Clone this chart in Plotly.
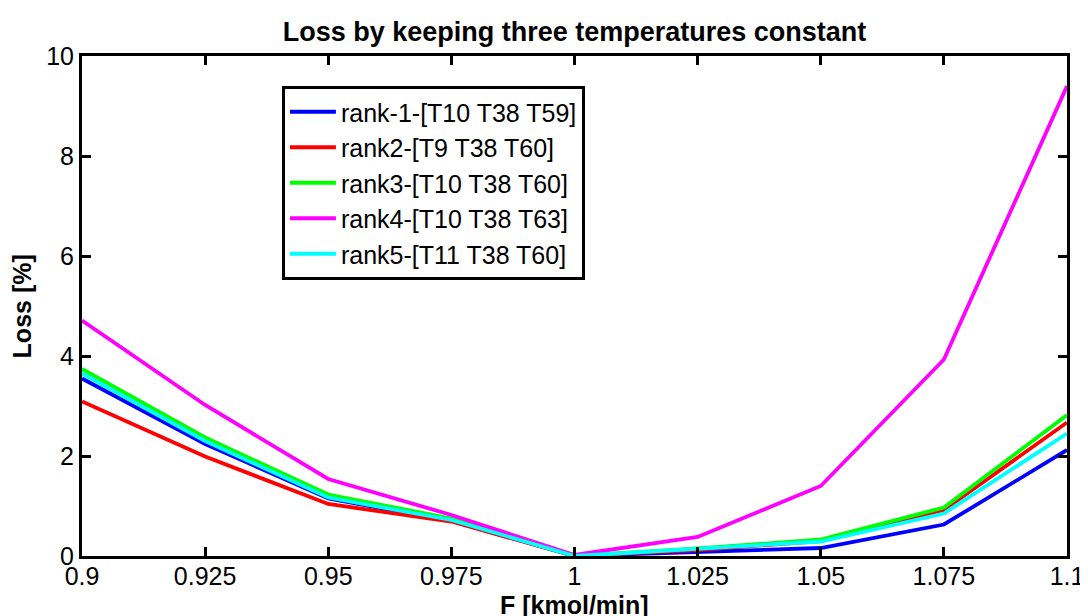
import plotly.graph_objects as go

F = [0.9, 0.925, 0.95, 0.975, 1.0, 1.025, 1.05, 1.075, 1.1]
rank1 = [3.55, 2.24, 1.15, 0.70, 0.0, 0.08, 0.16, 0.63, 2.12]
rank2 = [3.09, 1.99, 1.04, 0.69, 0.0, 0.12, 0.30, 0.92, 2.67]
rank3 = [3.74, 2.37, 1.23, 0.75, 0.0, 0.15, 0.33, 0.97, 2.82]
rank4 = [4.71, 3.02, 1.54, 0.82, 0.02, 0.38, 1.40, 3.93, 9.40]
rank5 = [3.65, 2.30, 1.17, 0.72, 0.0, 0.14, 0.29, 0.85, 2.45]

names = ["rank-1-[T10 T38 T59]", "rank2-[T9 T38 T60]", "rank3-[T10 T38 T60]",
         "rank4-[T10 T38 T63]", "rank5-[T11 T38 T60]"]
series = [rank1, rank2, rank3, rank4, rank5]
colors = ["#0000ff", "#ff0000", "#00ff00", "#ff00ff", "#00ffff"]

x_tickvals = [0.9, 0.925, 0.95, 0.975, 1.0, 1.025, 1.05, 1.075, 1.1]
x_ticktext = ["0.9", "0.925", "0.95", "0.975", "1", "1.025", "1.05", "1.075", "1.1"]
y_tickvals = [0, 2, 4, 6, 8, 10]

FONT = "Liberation Sans, Arial, sans-serif"

# page body has an 8px margin; figure sized so the plot lands where the reference has it
W, H = 1080, 608
fig = go.Figure()
for name, ys, c in zip(names, series, colors):
    fig.add_trace(go.Scatter(x=F, y=ys, mode="lines", name=name,
                             line=dict(color=c, width=3.8)))

fig.update_layout(
    width=W, height=H,
    margin=dict(l=74, r=21, t=48, b=60),
    paper_bgcolor="white", plot_bgcolor="white",
    font=dict(family=FONT, color="black", size=25),
    title=dict(text="<b>Loss by keeping three temperatures constant</b>",
               x=0.5, xref="paper", xanchor="center",
               y=1 - 24 / H, yanchor="middle",
               font=dict(size=27, family=FONT)),
    legend=dict(x=0.203, y=0.94, xanchor="left", yanchor="top",
                bgcolor="white", bordercolor="black", borderwidth=3,
                font=dict(size=25, family=FONT), tracegroupgap=0,
                itemwidth=46),
    showlegend=True,
    annotations=[
        dict(text="<b>F [kmol/min]</b>", xref="paper", yref="paper",
             x=0.5, y=-0.098, xanchor="center", yanchor="middle",
             showarrow=False, font=dict(size=25, family=FONT)),
        dict(text="<b>Loss [%]</b>", xref="paper", yref="paper",
             x=-0.0605, y=0.5, xanchor="center", yanchor="middle",
             textangle=-90, showarrow=False, font=dict(size=25, family=FONT)),
    ],
)
fig.update_xaxes(range=[0.9, 1.1], tickvals=x_tickvals, ticktext=x_ticktext,
                 showline=True, linecolor="black", linewidth=3, mirror="ticks",
                 ticks="inside", ticklen=9, tickwidth=3, tickcolor="black",
                 showgrid=False, zeroline=False, automargin=False,
                 ticklabelstandoff=-4,
                 tickfont=dict(size=25))
fig.update_yaxes(range=[0, 10], tickvals=y_tickvals,
                 showline=True, linecolor="black", linewidth=3, mirror="ticks",
                 ticks="inside", ticklen=9, tickwidth=3, tickcolor="black",
                 showgrid=False, zeroline=False, automargin=False,
                 tickfont=dict(size=25))

fig.write_html("out.html")
